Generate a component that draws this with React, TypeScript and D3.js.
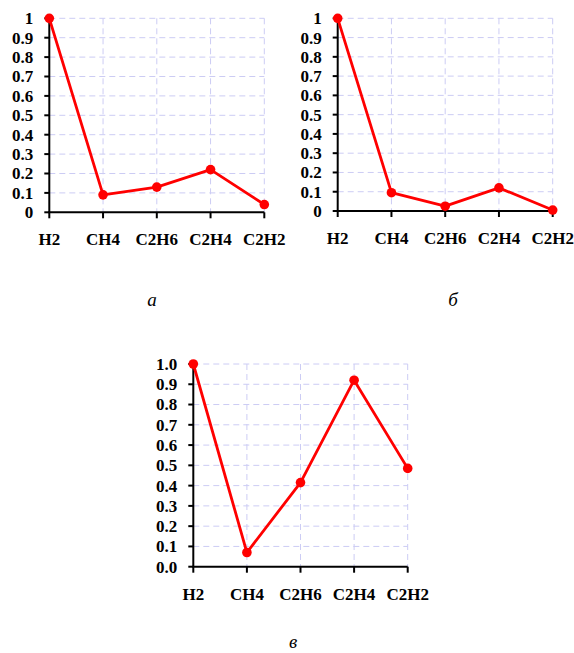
import React from "react";
import * as d3 from "d3";

const gases = ["H2", "CH4", "C2H6", "C2H4", "C2H2"];
const valuesA = [1, 0.09, 0.13, 0.22, 0.04];
const valuesB = [1, 0.095, 0.025, 0.12, 0.005];
const valuesC = [1, 0.07, 0.415, 0.92, 0.485];
const yTicks = [0, 0.1, 0.2, 0.3, 0.4, 0.5, 0.6, 0.7, 0.8, 0.9, 1];

const font = "Liberation Serif, Tinos, DejaVu Serif, serif";

function Panel({ values, x0, x1, yTop, yBottom, fmt, caption, capX, capY }) {
  const x = d3.scalePoint().domain(gases).range([x0, x1]);
  const y = d3.scaleLinear().domain([0, 1]).range([yBottom, yTop]);
  const line = d3.line().x((d, i) => x(gases[i])).y(d => y(d));

  return (
    <g>
      {/* grid */}
      {yTicks.slice(1).map(t => (
        <line key={"h" + t} x1={x0} x2={x1} y1={y(t)} y2={y(t)}
          stroke="#ccccf4" strokeWidth={1} strokeDasharray="6,4" />
      ))}
      {gases.slice(1).map(g => (
        <line key={"v" + g} x1={x(g)} x2={x(g)} y1={yTop} y2={yBottom}
          stroke="#ccccf4" strokeWidth={1} strokeDasharray="6,4" />
      ))}
      {/* axes */}
      <line x1={x0} x2={x0} y1={yTop} y2={yBottom} stroke="#000" strokeWidth={2} />
      <line x1={x0 - 1} x2={x1} y1={yBottom} y2={yBottom} stroke="#000" strokeWidth={2} />
      {yTicks.map(t => (
        <g key={"yt" + t}>
          <line x1={x0 - 5} x2={x0} y1={y(t)} y2={y(t)} stroke="#000" strokeWidth={2} />
          <text x={x0 - 16} y={y(t)} dy="0.35em" textAnchor="end"
            style={{ fontFamily: font, fontWeight: "bold", fontSize: 17 }}>{fmt(t)}</text>
        </g>
      ))}
      {gases.map(g => (
        <g key={"xt" + g}>
          <line x1={x(g)} x2={x(g)} y1={yBottom} y2={yBottom + 6} stroke="#000" strokeWidth={2} />
          <text x={x(g)} y={yBottom + 33} textAnchor="middle"
            style={{ fontFamily: font, fontWeight: "bold", fontSize: 17 }}>{g}</text>
        </g>
      ))}
      <path d={line(values)} fill="none" stroke="#ff0000" strokeWidth={2.8} strokeLinejoin="round" />
      {values.map((v, i) => (
        <circle key={"p" + i} cx={x(gases[i])} cy={y(v)} r={4.8} fill="#ff0000" />
      ))}
      <text x={capX} y={capY} textAnchor="middle"
        style={{ fontFamily: font, fontStyle: "italic", fontSize: 19 }}>{caption}</text>
    </g>
  );
}

export default function App() {
  const f1 = t => (t === 0 ? "0" : t === 1 ? "1" : d3.format(".1f")(t));
  const f2 = d3.format(".1f");
  return (
    <svg width={574} height={653} style={{ position: "absolute", left: 0, top: 0, background: "#fff" }}>
      <Panel values={valuesA} x0={49.3} x1={264.3} yTop={18.3} yBottom={212.3}
        fmt={f1} caption="а" capX={152} capY={306} />
      <Panel values={valuesB} x0={337.7} x1={552.7} yTop={18.3} yBottom={211}
        fmt={f1} caption="б" capX={453} capY={306} />
      <Panel values={valuesC} x0={193.3} x1={407.7} yTop={364} yBottom={566.7}
        fmt={f2} caption="в" capX={293} capY={648} />
    </svg>
  );
}
